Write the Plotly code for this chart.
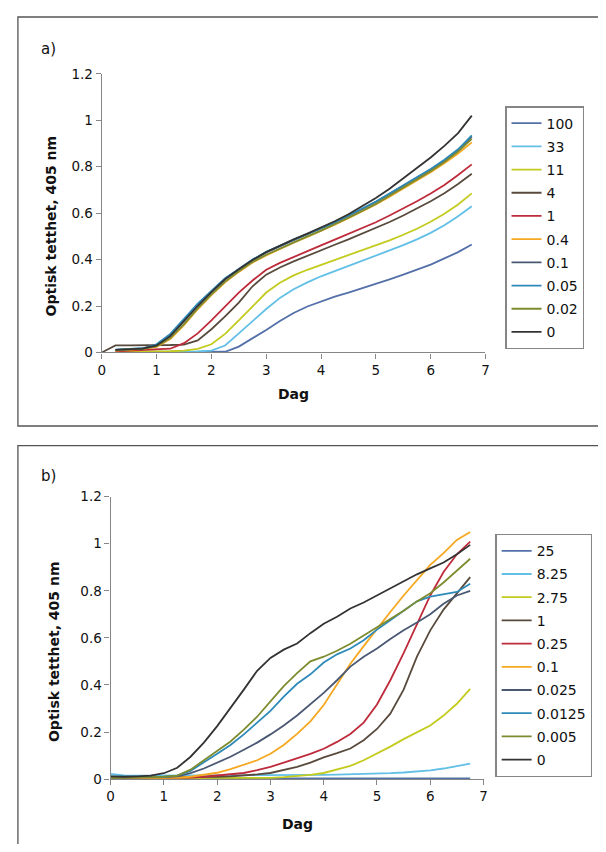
import plotly.graph_objects as go

PAGE_W, PAGE_H = 606, 852
OFF = 8  # default body margin of the html page
W, H = PAGE_W - 2 * OFF, PAGE_H - 2 * OFF

# ---------------- data ----------------
days = [0, 0.25, 0.5, 0.75, 1, 1.25, 1.5, 1.75, 2, 2.25, 2.5, 2.75, 3, 3.25,
        3.5, 3.75, 4, 4.25, 4.5, 4.75, 5, 5.25, 5.5, 5.75, 6, 6.25, 6.5, 6.75]

# panel a) concentrations
names_a = ["100", "33", "11", "4", "1", "0.4", "0.1", "0.05", "0.02", "0"]
a_100 = [None, 0.0, 0.0, 0.0, 0.0, 0.0, 0.0, 0.0, 0.001, 0.003, 0.025, 0.06, 0.097, 0.135,
         0.17, 0.198, 0.22, 0.24, 0.258, 0.276, 0.295, 0.315, 0.335, 0.355, 0.378, 0.405, 0.432, 0.465]
a_33 = [None, 0.002, 0.002, 0.003, 0.003, 0.003, 0.003, 0.004, 0.008, 0.03, 0.082, 0.135, 0.187, 0.235,
        0.272, 0.302, 0.328, 0.35, 0.372, 0.394, 0.415, 0.438, 0.462, 0.487, 0.515, 0.548, 0.587, 0.63]
a_11 = [None, 0.004, 0.004, 0.005, 0.005, 0.005, 0.008, 0.015, 0.035, 0.08, 0.138, 0.2, 0.258, 0.3,
        0.332, 0.356, 0.377, 0.397, 0.417, 0.438, 0.46, 0.483, 0.507, 0.533, 0.563, 0.597, 0.637, 0.685]
a_4 = [0.0, 0.03, 0.03, 0.03, 0.031, 0.032, 0.034, 0.052, 0.1, 0.155, 0.215, 0.285, 0.335, 0.366,
       0.392, 0.417, 0.441, 0.464, 0.487, 0.511, 0.536, 0.562, 0.59, 0.62, 0.651, 0.686, 0.726, 0.77]
a_1 = [None, 0.005, 0.008, 0.01, 0.012, 0.016, 0.04, 0.082, 0.138, 0.2, 0.258, 0.31, 0.356, 0.386,
       0.412, 0.437, 0.461, 0.486, 0.511, 0.536, 0.561, 0.59, 0.62, 0.651, 0.685, 0.721, 0.764, 0.81]
a_04 = [None, 0.008, 0.012, 0.015, 0.024, 0.058, 0.118, 0.186, 0.247, 0.302, 0.347, 0.387, 0.418, 0.446,
        0.473, 0.498, 0.523, 0.55, 0.578, 0.607, 0.637, 0.671, 0.705, 0.74, 0.776, 0.815, 0.857, 0.905]
a_01 = [None, 0.011, 0.014, 0.017, 0.032, 0.076, 0.14, 0.206, 0.262, 0.317, 0.358, 0.398, 0.431, 0.459,
        0.484, 0.509, 0.534, 0.559, 0.588, 0.618, 0.648, 0.683, 0.718, 0.752, 0.788, 0.827, 0.872, 0.93]
a_005 = [None, 0.012, 0.015, 0.018, 0.035, 0.08, 0.145, 0.21, 0.265, 0.32, 0.36, 0.4, 0.433, 0.46,
         0.485, 0.51, 0.535, 0.56, 0.59, 0.62, 0.65, 0.685, 0.72, 0.755, 0.79, 0.83, 0.875, 0.935]
a_002 = [None, 0.01, 0.013, 0.016, 0.026, 0.062, 0.122, 0.19, 0.25, 0.305, 0.35, 0.39, 0.421, 0.448,
         0.475, 0.5, 0.525, 0.552, 0.58, 0.61, 0.64, 0.675, 0.71, 0.745, 0.781, 0.82, 0.865, 0.92]
a_0 = [None, 0.011, 0.014, 0.016, 0.03, 0.07, 0.135, 0.2, 0.26, 0.315, 0.358, 0.398, 0.432, 0.46,
       0.487, 0.512, 0.538, 0.565, 0.595, 0.63, 0.665, 0.705, 0.75, 0.795, 0.84, 0.89, 0.945, 1.02]
series_a = [a_100, a_33, a_11, a_4, a_1, a_04, a_01, a_005, a_002, a_0]

# panel b) concentrations
names_b = ["25", "8.25", "2.75", "1", "0.25", "0.1", "0.025", "0.0125", "0.005", "0"]
b_25 = [0.004, 0.003, 0.003, 0.003, 0.003, 0.003, 0.003, 0.003, 0.003, 0.003, 0.003, 0.003, 0.003, 0.003,
        0.003, 0.003, 0.003, 0.003, 0.003, 0.003, 0.003, 0.003, 0.003, 0.003, 0.003, 0.003, 0.003, 0.003]
b_825 = [0.022, 0.016, 0.015, 0.015, 0.015, 0.015, 0.015, 0.015, 0.015, 0.015, 0.015, 0.015, 0.016, 0.016,
         0.016, 0.017, 0.018, 0.019, 0.02, 0.021, 0.022, 0.025, 0.028, 0.032, 0.037, 0.045, 0.055, 0.066]
b_275 = [0.004, 0.004, 0.004, 0.004, 0.005, 0.005, 0.005, 0.005, 0.005, 0.005, 0.005, 0.005, 0.005, 0.008,
         0.012, 0.018, 0.026, 0.04, 0.056, 0.08, 0.108, 0.138, 0.17, 0.198, 0.228, 0.27, 0.32, 0.383]
b_1 = [0.008, 0.008, 0.008, 0.008, 0.008, 0.009, 0.009, 0.01, 0.01, 0.012, 0.015, 0.02, 0.026, 0.038,
       0.052, 0.07, 0.092, 0.11, 0.13, 0.165, 0.213, 0.278, 0.38, 0.52, 0.632, 0.72, 0.79, 0.858]
b_025 = [0.005, 0.005, 0.005, 0.005, 0.005, 0.005, 0.006, 0.01, 0.015, 0.02, 0.026, 0.038, 0.052, 0.07,
         0.087, 0.107, 0.129, 0.158, 0.192, 0.24, 0.317, 0.42, 0.535, 0.655, 0.78, 0.88, 0.955, 1.009]
b_01 = [0.003, 0.003, 0.004, 0.004, 0.005, 0.006, 0.01, 0.018, 0.027, 0.042, 0.06, 0.08, 0.108, 0.145,
        0.192, 0.245, 0.315, 0.4, 0.49, 0.565, 0.64, 0.71, 0.78, 0.845, 0.91, 0.96, 1.016, 1.05]
b_0025 = [0.005, 0.005, 0.006, 0.007, 0.008, 0.012, 0.025, 0.045, 0.07, 0.095, 0.125, 0.155, 0.19, 0.228,
          0.27, 0.318, 0.366, 0.42, 0.478, 0.52, 0.555, 0.595, 0.632, 0.665, 0.7, 0.745, 0.78, 0.8]
b_00125 = [0.012, 0.01, 0.009, 0.009, 0.01, 0.015, 0.035, 0.07, 0.108, 0.145, 0.19, 0.24, 0.29, 0.35,
           0.405, 0.445, 0.495, 0.53, 0.555, 0.59, 0.635, 0.675, 0.715, 0.755, 0.775, 0.785, 0.795, 0.83]
b_0005 = [0.005, 0.005, 0.006, 0.008, 0.01, 0.015, 0.04, 0.08, 0.12, 0.16, 0.21, 0.265, 0.33, 0.395,
          0.45, 0.5, 0.52, 0.545, 0.575, 0.61, 0.645, 0.68, 0.715, 0.755, 0.79, 0.835, 0.885, 0.936]
b_0 = [0.012, 0.01, 0.012, 0.015, 0.025, 0.048, 0.095, 0.155, 0.225, 0.3, 0.38, 0.46, 0.515, 0.55,
       0.576, 0.62, 0.66, 0.69, 0.725, 0.75, 0.78, 0.81, 0.84, 0.87, 0.895, 0.92, 0.955, 0.995]
series_b = [b_25, b_825, b_275, b_1, b_025, b_01, b_0025, b_00125, b_0005, b_0]

colors = ["#5470A8", "#62BFE6", "#C3CB1E", "#584B3E", "#BE2B3B",
          "#F6A821", "#4A5873", "#2E8AB8", "#7E8C30", "#333333"]

y_ticks = [0, 0.2, 0.4, 0.6, 0.8, 1, 1.2]
x_ticks = [0, 1, 2, 3, 4, 5, 6, 7]
y_title = "Optisk tetthet, 405 nm"
x_title = "Dag"

# ---------------- figure ----------------
FONT = "DejaVu Sans"
fig = go.Figure()

for name, ys, c in zip(names_a, series_a, colors):
    fig.add_trace(go.Scatter(x=days, y=ys, name=name, mode="lines",
                             line=dict(color=c, width=1.8),
                             xaxis="x", yaxis="y", legend="legend",
                             legendgroup="a" + name))
for name, ys, c in zip(names_b, series_b, colors):
    fig.add_trace(go.Scatter(x=days, y=ys, name=name, mode="lines",
                             line=dict(color=c, width=1.8),
                             xaxis="x2", yaxis="y2", legend="legend2",
                             legendgroup="b" + name))

# page pixel -> paper fraction
def px_x(p):
    return (p - OFF) / W

def px_y(p):
    return 1 - (p - OFF) / H

axis_common = dict(showgrid=False, zeroline=False, showline=True,
                   linecolor="#868686", linewidth=1.3,
                   ticks="outside", ticklen=5, tickcolor="#868686", tickwidth=1.3,
                   tickfont=dict(family=FONT, size=13.5, color="#111"))

fig.update_layout(
    width=W, height=H, margin=dict(l=0, r=0, t=0, b=0),
    paper_bgcolor="white", plot_bgcolor="white",
    font=dict(family=FONT, color="#111"),
    xaxis=dict(domain=[px_x(99), px_x(488)], range=[0, 7], tickvals=x_ticks,
               anchor="y", **axis_common),
    yaxis=dict(domain=[px_y(351), px_y(67)], range=[0, 1.2], tickvals=y_ticks,
               anchor="x", **axis_common),
    xaxis2=dict(domain=[px_x(108), px_x(486)], range=[0, 7], tickvals=x_ticks,
                anchor="y2", **axis_common),
    yaxis2=dict(domain=[px_y(786), px_y(498)], range=[0, 1.2], tickvals=y_ticks,
                anchor="x2", **axis_common),
    legend=dict(x=px_x(508), y=px_y(100), xanchor="left", yanchor="top",
                bordercolor="#868686", borderwidth=1.3, bgcolor="white",
                font=dict(family=FONT, size=14, color="#111"),
                tracegroupgap=2, traceorder="grouped"),
    legend2=dict(x=px_x(498), y=px_y(536), xanchor="left", yanchor="top",
                 bordercolor="#868686", borderwidth=1.3, bgcolor="white",
                 font=dict(family=FONT, size=14, color="#111"),
                 tracegroupgap=2, traceorder="grouped"),
    showlegend=True,
)

# panel frames
fig.add_shape(type="rect", xref="paper", yref="paper",
              x0=px_x(14), x1=px_x(640), y0=px_y(426), y1=px_y(9),
              line=dict(color="#555555", width=1.3), fillcolor="rgba(0,0,0,0)", layer="below")
fig.add_shape(type="rect", xref="paper", yref="paper",
              x0=px_x(14), x1=px_x(640), y0=px_y(900), y1=px_y(446),
              line=dict(color="#555555", width=1.3), fillcolor="rgba(0,0,0,0)", layer="below")

# titles / labels
def ann(text, x, y, size=14, bold=False, angle=0, xanchor="center"):
    fig.add_annotation(text=("<b>%s</b>" % text) if bold else text,
                       x=px_x(x), y=px_y(y), xref="paper", yref="paper",
                       showarrow=False, textangle=angle, xanchor=xanchor, yanchor="middle",
                       font=dict(family=FONT, size=size, color="#111"))

ann("a)", 35, 42, size=15, xanchor="left")
ann("b)", 35, 477, size=15, xanchor="left")
ann(x_title, 293, 393, bold=True)
ann(x_title, 297, 832, bold=True)
ann(y_title, 47, 222, bold=True, angle=-90)
ann(y_title, 50, 656, bold=True, angle=-90)

fig.write_html("out.html")
